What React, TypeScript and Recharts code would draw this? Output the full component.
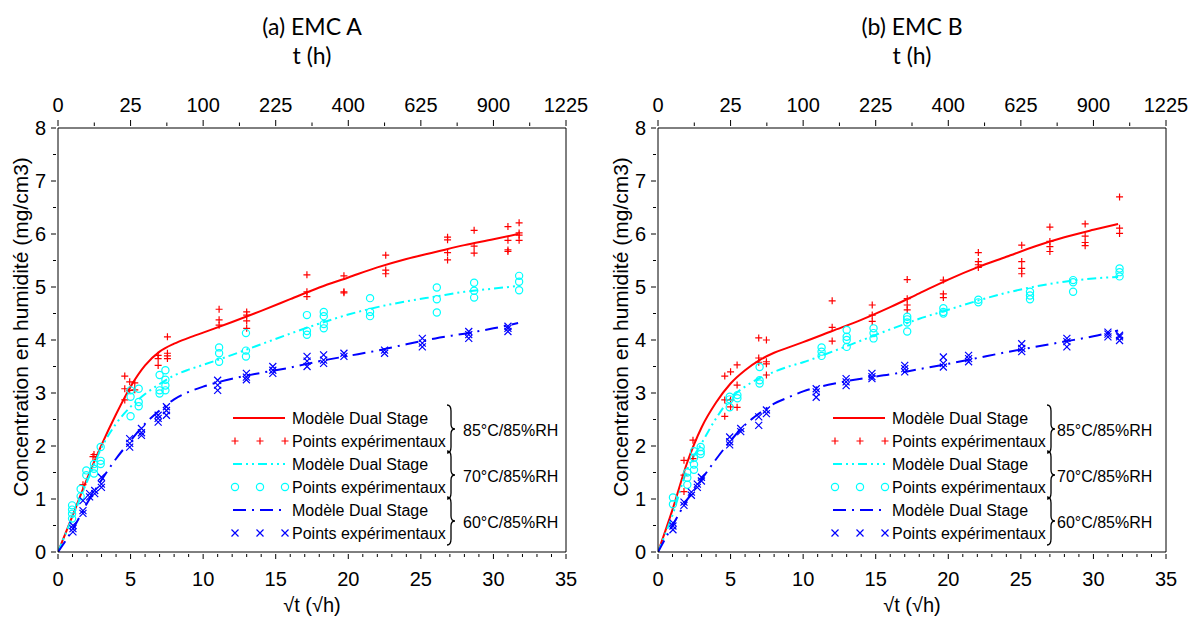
import React from "react";
import { ComposedChart, Line, Scatter, XAxis, YAxis, Legend, Label } from "recharts";

const FONT = "'Liberation Sans', Arial, sans-serif";
const TITLE_FONT = "Lato, 'Open Sans', sans-serif";
const RED = "#ff0000";
const CYAN = "#00ffff";
const BLUE = "#0000ff";

// axis ticks
const topTicks = [0, 2.5, 5, 7.5, 10, 12.5, 15, 17.5, 20, 22.5, 25, 27.5, 30, 32.5, 35];
const bottomTicks = Array.from({ length: 36 }, (_, i) => i);
const leftTicks = [0, 0.5, 1, 1.5, 2, 2.5, 3, 3.5, 4, 4.5, 5, 5.5, 6, 6.5, 7, 7.5, 8];

// model curves (sqrt t, concentration)
const modelX = [0, 1, 2, 3, 4, 5, 6, 7, 8, 9, 10, 12, 14, 16, 18, 20, 22, 24, 26, 28, 30, 31.7];
const modelA85 = [0, 0.68, 1.38, 2.02, 2.6, 3.12, 3.52, 3.78, 3.93, 4.04, 4.14, 4.34, 4.55, 4.77, 4.99, 5.18, 5.37, 5.53, 5.66, 5.79, 5.9, 6.0];
const modelA70 = [0, 0.66, 1.33, 1.97, 2.42, 2.74, 2.98, 3.17, 3.33, 3.44, 3.53, 3.72, 3.92, 4.12, 4.31, 4.48, 4.62, 4.73, 4.82, 4.91, 4.97, 5.02];
const modelA60 = [0, 0.42, 0.92, 1.36, 1.76, 2.1, 2.42, 2.67, 2.88, 3.02, 3.12, 3.27, 3.38, 3.48, 3.6, 3.7, 3.8, 3.92, 4.03, 4.12, 4.22, 4.32];
const modelB85 = [0, 0.8, 1.68, 2.35, 2.82, 3.18, 3.43, 3.62, 3.76, 3.86, 3.96, 4.17, 4.38, 4.62, 4.88, 5.14, 5.37, 5.57, 5.77, 5.94, 6.08, 6.19];
const modelB70 = [0, 0.7, 1.55, 2.05, 2.52, 2.9, 3.12, 3.28, 3.4, 3.5, 3.58, 3.78, 3.99, 4.2, 4.4, 4.57, 4.74, 4.89, 5.01, 5.1, 5.16, 5.19];
const modelB60 = [0, 0.5, 0.98, 1.37, 1.75, 2.1, 2.4, 2.62, 2.8, 2.92, 3.03, 3.17, 3.27, 3.35, 3.45, 3.55, 3.66, 3.77, 3.87, 3.97, 4.07, 4.18];

// experimental points [sqrt t, concentration]
const ptsA85 = [
  [1.72, 1.27], [2.41, 1.8], [2.48, 1.84],
  [4.6, 3.32], [4.6, 3.08], [4.6, 2.87], [4.94, 3.21], [4.94, 3.05], [5.29, 3.19], [5.29, 3.06],
  [6.9, 3.71], [6.9, 3.65], [6.9, 3.52], [7.54, 4.06], [7.54, 3.75], [7.54, 3.7], [7.54, 3.65],
  [11.1, 4.58], [11.1, 4.38], [11.1, 4.28],
  [13.0, 4.53], [13.0, 4.47], [13.0, 4.36], [13.0, 4.22],
  [17.15, 5.23], [17.15, 4.91], [17.15, 4.82],
  [19.7, 5.21], [19.7, 4.91], [19.7, 4.89],
  [22.58, 5.6], [22.58, 5.32], [22.58, 5.25],
  [26.84, 5.94], [26.84, 5.89], [26.84, 5.65], [26.84, 5.51],
  [28.67, 6.07], [28.67, 5.77], [28.67, 5.64],
  [31.0, 6.14], [31.0, 5.88], [31.0, 5.7], [31.0, 5.67],
  [31.77, 6.21], [31.77, 6.02], [31.77, 5.98], [31.77, 5.88],
];
const ptsA70 = [
  [0.97, 0.88], [0.97, 0.8], [0.97, 0.72], [0.97, 0.63], [1.56, 1.19], [1.56, 1.05],
  [1.95, 1.54], [1.95, 1.45], [2.48, 1.66], [2.48, 1.57], [2.48, 1.48], [2.94, 1.98], [2.94, 1.72], [2.94, 1.66],
  [5.0, 3.05], [5.0, 2.93], [5.0, 2.56], [5.56, 3.08], [5.56, 2.83], [5.56, 2.75],
  [7.0, 3.34], [7.0, 3.05], [7.0, 2.99], [7.4, 3.43], [7.4, 3.25], [7.4, 3.14], [7.4, 3.05],
  [11.1, 3.86], [11.1, 3.75], [11.1, 3.59],
  [12.95, 4.13], [12.95, 3.8], [12.95, 3.69],
  [17.15, 4.47], [17.15, 4.17], [17.15, 4.1],
  [18.31, 4.53], [18.31, 4.45], [18.31, 4.3], [18.31, 4.22],
  [21.5, 4.79], [21.5, 4.53], [21.5, 4.45],
  [26.1, 4.99], [26.1, 4.77], [26.1, 4.52],
  [28.67, 5.08], [28.67, 4.93], [28.67, 4.8],
  [31.77, 5.21], [31.77, 5.1], [31.77, 4.94],
];
const ptsA60 = [
  [1.03, 0.5], [1.03, 0.44], [1.03, 0.38], [1.72, 0.97], [1.72, 0.78], [1.72, 0.73],
  [2.18, 1.04], [2.18, 1.1], [2.53, 1.16], [2.53, 1.1], [2.99, 1.41], [2.99, 1.28], [2.99, 1.22],
  [4.94, 2.14], [4.94, 2.05], [4.94, 1.98], [5.75, 2.33], [5.75, 2.25], [5.75, 2.2],
  [6.9, 2.58], [6.9, 2.52], [6.9, 2.45], [7.47, 2.74], [7.47, 2.67], [7.47, 2.58],
  [11.0, 3.24], [11.0, 3.15], [11.0, 3.05], [12.98, 3.37], [12.98, 3.3], [12.98, 3.25],
  [14.8, 3.5], [14.8, 3.43], [14.8, 3.37],
  [17.16, 3.69], [17.16, 3.6], [17.16, 3.5], [18.3, 3.72], [18.3, 3.62], [18.3, 3.56],
  [19.7, 3.75], [19.7, 3.69], [22.5, 3.81], [22.5, 3.75],
  [25.1, 4.03], [25.1, 3.94], [25.1, 3.87], [28.3, 4.16], [28.3, 4.1], [28.3, 4.03],
  [31.0, 4.26], [31.0, 4.22], [31.0, 4.16],
];
const ptsB85 = [
  [1.79, 1.73], [1.79, 1.45], [1.79, 1.14], [2.41, 2.11], [2.41, 1.76],
  [4.6, 3.32], [4.6, 2.87], [4.6, 2.56], [5.0, 3.4], [5.0, 2.87], [5.0, 2.74],
  [5.45, 3.53], [5.45, 3.15], [5.45, 2.73],
  [6.94, 4.04], [6.94, 3.66], [6.94, 3.58], [7.47, 4.0], [7.47, 3.59], [7.47, 3.55], [7.47, 3.34],
  [12.0, 4.74], [12.0, 4.24], [12.0, 3.98],
  [14.76, 4.66], [14.76, 4.47], [14.76, 4.35],
  [17.17, 5.14], [17.17, 4.78], [17.17, 4.66], [17.17, 4.57],
  [19.66, 5.13], [19.66, 4.87], [19.66, 4.8],
  [22.07, 5.65], [22.07, 5.48], [22.07, 5.42], [22.07, 5.37],
  [25.06, 5.79], [25.06, 5.48], [25.06, 5.35], [25.06, 5.25],
  [27.0, 6.13], [27.0, 5.86], [27.0, 5.76], [27.0, 5.67],
  [29.43, 6.19], [29.43, 5.96], [29.43, 5.84], [29.43, 5.78],
  [31.8, 6.7], [31.8, 6.11], [31.8, 6.01],
];
const ptsB70 = [
  [1.03, 1.03], [1.03, 0.9], [2.02, 1.5], [2.02, 1.4], [2.02, 1.27],
  [2.48, 1.9], [2.48, 1.78], [2.48, 1.65], [2.48, 1.55], [2.94, 1.98], [2.94, 1.9], [2.94, 1.85],
  [4.94, 2.93], [4.94, 2.88], [4.94, 2.73], [5.47, 2.96], [5.47, 2.9],
  [7.0, 3.49], [7.0, 3.24], [7.0, 3.18],
  [11.27, 3.86], [11.27, 3.78], [11.27, 3.7],
  [13.0, 4.19], [13.0, 4.06], [13.0, 4.0], [13.0, 3.87],
  [14.85, 4.22], [14.85, 4.13], [14.85, 4.03],
  [17.17, 4.44], [17.17, 4.39], [17.17, 4.33], [17.17, 4.16],
  [19.66, 4.6], [19.66, 4.53], [19.66, 4.5], [22.07, 4.76], [22.07, 4.71],
  [25.63, 4.91], [25.63, 4.84], [25.63, 4.77],
  [28.6, 5.13], [28.6, 5.09], [28.6, 4.91],
  [31.8, 5.35], [31.8, 5.28], [31.8, 5.2],
];
const ptsB60 = [
  [1.03, 0.55], [1.03, 0.49], [1.03, 0.42], [1.79, 0.94], [1.79, 0.88],
  [2.3, 1.13], [2.3, 1.07], [2.71, 1.28], [2.71, 1.22], [2.99, 1.41], [2.99, 1.34],
  [4.94, 2.17], [4.94, 2.08], [4.94, 2.02], [5.7, 2.33], [5.7, 2.27],
  [6.94, 2.55], [6.94, 2.39], [7.47, 2.68], [7.47, 2.61],
  [10.9, 3.08], [10.9, 3.02], [10.9, 2.92], [12.96, 3.27], [12.96, 3.21], [12.96, 3.14],
  [14.74, 3.37], [14.74, 3.31], [14.74, 3.27],
  [17.0, 3.52], [17.0, 3.46], [17.0, 3.4], [19.66, 3.68], [19.66, 3.56], [19.66, 3.49],
  [21.4, 3.71], [21.4, 3.65], [21.4, 3.59], [25.06, 3.93], [25.06, 3.84], [25.06, 3.78],
  [28.17, 4.03], [28.17, 3.97], [28.17, 3.87], [31.0, 4.15], [31.0, 4.11], [31.0, 4.06],
  [31.8, 4.09], [31.8, 4.06], [31.8, 3.99],
];

const legendRows = ["Modèle Dual Stage", "Points expérimentaux"];
const groups = ["85°C/85%RH", "70°C/85%RH", "60°C/85%RH"];

const curve = (ys: number[]) => modelX.map((x, i) => ({ x, y: ys[i] }));
const toXY = (pts: number[][]) => pts.map(([x, y]) => ({ x, y }));

// markers
const PlusShape = (p: any) => (
  <path d={`M${p.cx - 3.5},${p.cy}H${p.cx + 3.5}M${p.cx},${p.cy - 3.5}V${p.cy + 3.5}`} stroke={RED} strokeWidth={1.2} fill="none" />
);
const CircleShape = (p: any) => <circle cx={p.cx} cy={p.cy} r={3.6} stroke={CYAN} strokeWidth={1.2} fill="none" />;
const CrossShape = (p: any) => (
  <path d={`M${p.cx - 3.5},${p.cy - 3.5}L${p.cx + 3.5},${p.cy + 3.5}M${p.cx - 3.5},${p.cy + 3.5}L${p.cx + 3.5},${p.cy - 3.5}`} stroke={BLUE} strokeWidth={1.2} fill="none" />
);
const NoShape = () => <g />;

const TopTick = (props: any) => {
  const { x, y, payload } = props;
  const v = payload.value;
  const major = v % 5 === 0;
  return (
    <g>
      <line x1={x} x2={x} y1={y} y2={y - (major ? 6 : 3.5)} stroke="#000" />
      {major && (
        <text x={x} y={y - 21} textAnchor="middle" dominantBaseline="central" fontSize={20} fontFamily={FONT} fill="#000">
          {Math.round(v * v)}
        </text>
      )}
    </g>
  );
};

const BottomTick = (props: any) => {
  const { x, y, payload } = props;
  const v = payload.value;
  const major = v % 5 === 0;
  return (
    <g>
      <line x1={x} x2={x} y1={y} y2={y + (major ? 5 : 3)} stroke="#000" />
      {major && (
        <text x={x} y={y + 25} textAnchor="middle" dominantBaseline="central" fontSize={20} fontFamily={FONT} fill="#000">
          {v}
        </text>
      )}
    </g>
  );
};

const LeftTick = (props: any) => {
  const { x, y, payload } = props;
  const v = payload.value;
  const major = Number.isInteger(v);
  return (
    <g>
      <line x1={x} x2={x - (major ? 5 : 3)} y1={y} y2={y} stroke="#000" />
      {major && (
        <text x={x - 10} y={y} textAnchor="end" dominantBaseline="central" fontSize={20} fontFamily={FONT} fill="#000">
          {v}
        </text>
      )}
    </g>
  );
};

const brace = (x: number, y1: number, y2: number) => {
  const ym = (y1 + y2) / 2;
  const w = 8;
  const xm = x + w / 2;
  return `M${x},${y1} Q${xm},${y1} ${xm},${y1 + 6} L${xm},${ym - 5} Q${xm},${ym} ${x + w},${ym} Q${xm},${ym} ${xm},${ym + 5} L${xm},${y2 - 6} Q${xm},${y2} ${x},${y2}`;
};

function LegendBlock({ groupX }: { groupX: number }) {
  const colors = [RED, CYAN, BLUE];
  const dashes = [undefined, "9 4 2 4 2 4", "13 6 2 6"];
  const shapes = [PlusShape, CircleShape, CrossShape];
  const rowY = [18, 41, 64, 87, 110, 133];
  return (
    <svg width={345} height={150} style={{ display: "block" }}>
      {groups.map((g, gi) => {
        const yl = rowY[gi * 2];
        const yp = rowY[gi * 2 + 1];
        const Shape = shapes[gi];
        return (
          <g key={g}>
            <line x1={8} x2={60} y1={yl} y2={yl} stroke={colors[gi]} strokeWidth={2} strokeDasharray={dashes[gi]} />
            <text x={67} y={yl} dominantBaseline="central" fontSize={16} fontFamily={FONT} fill="#000">{legendRows[0]}</text>
            {[10, 35, 60].map((mx) => <Shape key={mx} cx={mx} cy={yp} />)}
            <text x={67} y={yp} dominantBaseline="central" fontSize={16} fontFamily={FONT} fill="#000">{legendRows[1]}</text>
            <path d={brace(222, yl - 13, yp + 12)} stroke="#000" strokeWidth={1.3} fill="none" />
            <text x={groupX} y={(yl + yp) / 2 + 1} dominantBaseline="central" fontSize={16} fontFamily={FONT} fill="#000">{g}</text>
          </g>
        );
      })}
    </svg>
  );
}

function Panel({ left, title, m85, m70, m60, p85, p70, p60, groupX }: any) {
  return (
    <div style={{ position: "absolute", left, top: 0 }}>
      <ComposedChart width={600} height={619} margin={{ top: 0, right: 0, bottom: 0, left: 0 }}>
        <XAxis xAxisId="top" orientation="top" dataKey="x" type="number" domain={[0, 35]} allowDataOverflow ticks={topTicks} interval={0}
          height={128} tickSize={0} tickLine={false} tick={TopTick} axisLine={{ stroke: "#000" }}>
          <Label content={() => (
            <g fontFamily={TITLE_FONT} fill="#000">
              <text x={312} y={26} textAnchor="middle" dominantBaseline="central" fontSize={23}>{title}</text>
              <text x={312} y={55} textAnchor="middle" dominantBaseline="central" fontSize={23}>t (h)</text>
            </g>
          )} />
        </XAxis>
        <XAxis xAxisId="b" dataKey="x" type="number" domain={[0, 35]} allowDataOverflow ticks={bottomTicks} interval={0}
          height={67} tickSize={0} tickLine={false} tick={BottomTick} axisLine={{ stroke: "#000" }}>
          <Label content={() => (
            <text x={312} y={605} textAnchor="middle" dominantBaseline="central" fontSize={20} fontFamily={FONT} fill="#000">√t (√h)</text>
          )} />
        </XAxis>
        <YAxis yAxisId="l" dataKey="y" type="number" domain={[0, 8]} allowDataOverflow ticks={leftTicks} interval={0}
          width={58} tickSize={0} tickLine={false} tick={LeftTick} axisLine={{ stroke: "#000" }}>
          <Label content={() => (
            <text transform="translate(20,327) rotate(-90)" textAnchor="middle" dominantBaseline="central" fontSize={21} fontFamily={FONT} fill="#000">
              Concentration en humidité (mg/cm3)
            </text>
          )} />
        </YAxis>
        <YAxis yAxisId="r" orientation="right" dataKey="y" type="number" domain={[0, 8]} allowDataOverflow width={34} tick={false} tickLine={false} axisLine={{ stroke: "#000" }} />

        {/* invisible hooks so the top (t) and right axes get a scale */}
        <Scatter xAxisId="top" yAxisId="r" data={toXY(p85)} dataKey="y" shape={NoShape} legendType="none" isAnimationActive={false} />

        <Line xAxisId="b" yAxisId="l" data={curve(m85)} dataKey="y" type="monotone" stroke={RED} strokeWidth={2} dot={false} isAnimationActive={false} />
        <Line xAxisId="b" yAxisId="l" data={curve(m70)} dataKey="y" type="monotone" stroke={CYAN} strokeWidth={2} strokeDasharray="9 4 2 4 2 4" dot={false} isAnimationActive={false} />
        <Line xAxisId="b" yAxisId="l" data={curve(m60)} dataKey="y" type="monotone" stroke={BLUE} strokeWidth={2} strokeDasharray="13 6 2 6" dot={false} isAnimationActive={false} />
        <Scatter xAxisId="b" yAxisId="l" data={toXY(p85)} dataKey="y" shape={PlusShape} isAnimationActive={false} />
        <Scatter xAxisId="b" yAxisId="l" data={toXY(p70)} dataKey="y" shape={CircleShape} isAnimationActive={false} />
        <Scatter xAxisId="b" yAxisId="l" data={toXY(p60)} dataKey="y" shape={CrossShape} isAnimationActive={false} />

        <Legend layout="vertical" align="center" verticalAlign="middle" content={() => <LegendBlock groupX={groupX} />}
          wrapperStyle={{ left: 225, top: 400, width: 345, height: 150 }} />
      </ComposedChart>
    </div>
  );
}

export default function App() {
  return (
    <div style={{ position: "absolute", left: 0, top: 0, width: 1196, height: 619, background: "#fff" }}>
      <Panel left={0} title="(a) EMC A" m85={modelA85} m70={modelA70} m60={modelA60} p85={ptsA85} p70={ptsA70} p60={ptsA60} groupX={238} />
      <Panel left={600} title="(b) EMC B" m85={modelB85} m70={modelB70} m60={modelB60} p85={ptsB85} p70={ptsB70} p60={ptsB60} groupX={232} />
    </div>
  );
}
